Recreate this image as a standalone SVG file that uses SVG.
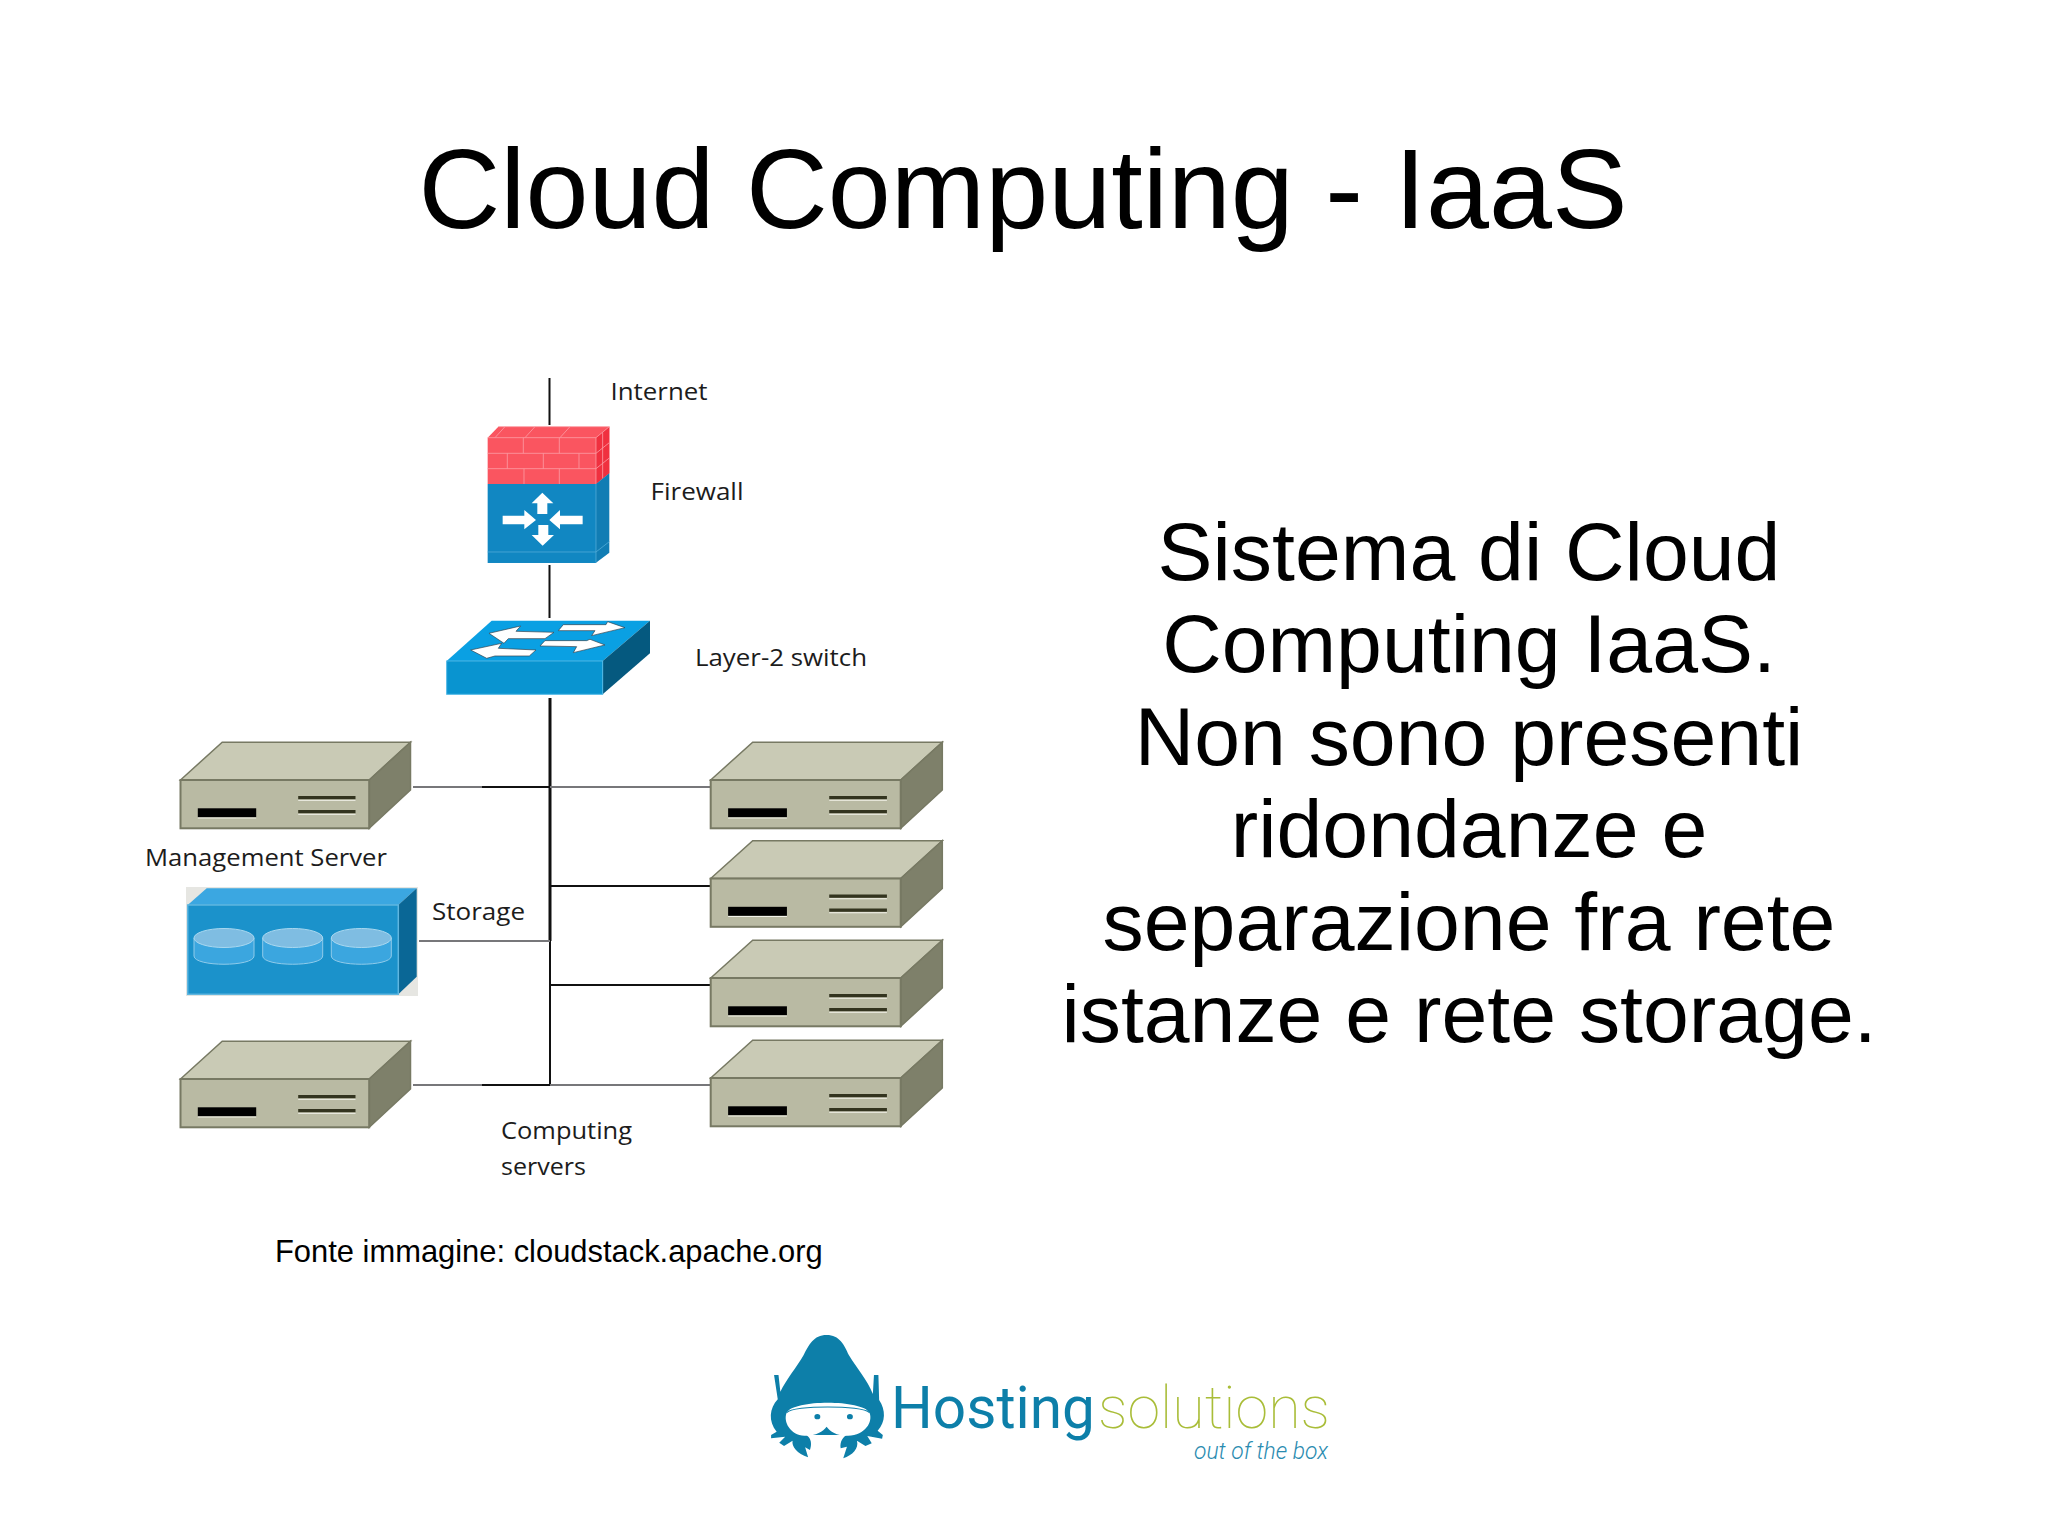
<svg xmlns="http://www.w3.org/2000/svg" width="2048" height="1535" viewBox="0 0 2048 1535">
<style>
.t{font-family:"Liberation Sans",Arial,sans-serif;fill:#000}
.b{font-size:82.400px;text-anchor:middle}
.l{font-family:"Open Sans","Noto Sans",sans-serif;font-size:23px;fill:#1c1c1c}
.k{fill:none;stroke:#111;stroke-width:2}
.g{fill:none;stroke:#77777a;stroke-width:2}
.br{fill:none;stroke:#fb9aa2;stroke-width:2.500}
.w{fill:#fff;stroke:#33404a;stroke-width:2}
.cy{fill:#3ba6df;stroke:#8fcbea;stroke-width:1}
.cyt{fill:#7fbde2;stroke:#a9d8f0;stroke-width:1}
</style>
<defs>
<g id="srv">
<path d="M0 0L41.700-37.800H230L188.700 0Z" fill="#c9cab5" stroke="#777963" stroke-width="1.500"/>
<path d="M188.700 0L230-37.800V10L188.700 48.300Z" fill="#7e806a" stroke="#777963" stroke-width="1.500"/>
<rect width="188.700" height="48.300" fill="#b9baa3" stroke="#777963" stroke-width="2"/>
<rect x="17.300" y="28.300" width="58.400" height="9" fill="#000"/>
<path d="M17.300 38H75.700" stroke="#f3f3ea" stroke-width="1"/>
<rect x="117.700" y="16" width="57.300" height="3.300" fill="#33341f"/>
<rect x="117.700" y="30" width="57.300" height="3.300" fill="#33341f"/>
<path d="M117.700 20.300H175M117.700 34.300H175" stroke="#f3f3ea" stroke-width="1"/>
</g>
<g id="cyl">
<path d="M-30 0V18C-30 29 30 29 30 18V0" class="cy"/>
<ellipse rx="30" ry="9.500" class="cyt"/>
</g>
</defs>
<rect width="2048" height="1535" fill="#fff"/>
<text class="t" x="1023" y="228" font-size="113.300" text-anchor="middle" id="title">Cloud Computing - IaaS</text>
<g id="connectors">
<path class="k" d="M549.500 378V425M549.500 565V618M550 941V1085M482 787H550M550 886H710M550 985H710M482 1085H550"/>
<path class="k" d="M550 698V941" style="stroke-width:3"/>
<path class="g" d="M413 787H482M550 787H710M419 941H550M550 1085H710M413 1085H482"/>
</g>
<g id="firewall">
<g transform="translate(430 370) scale(.3333)">
<path d="M173 203L205 170H538V310L498 342H173Z" fill="#fa5560"/>
<path d="M498 203L538 170V310L498 342Z" fill="#f0303f"/>
<path class="br" d="M173 203H498L538 170M205 170H538M173 250H498L538 218M173 296H498L538 264M280 203V250M388 203V250M232 250V296M340 250V296M447 250V296M282 296V342M388 296V342M498 203V342M518 187V326M225 170L195 203M315 170L285 203M420 170L390 203"/>
<rect x="173" y="342" width="325" height="237" fill="#1187c2"/>
<path d="M498 342L538 310V548L498 578Z" fill="#117db4"/>
<path d="M173 546H498L538 515M498 342V578" fill="none" stroke="#4ea9d6" stroke-width="2.500"/>
<path d="M337 368L370 400H352V432H322V400H305Z M338 527L305 495H325V465H355V495H372Z M318 450L283 420V437H218V463H283V478Z M358 450L390 420V437H458V463H390V478Z" fill="#fff"/>
</g>
<text class="l" x="650.500" y="500" textLength="93" lengthAdjust="spacingAndGlyphs">Firewall</text>
</g>
<text class="l" x="610.500" y="400" id="internet" textLength="97" lengthAdjust="spacingAndGlyphs">Internet</text>
<g id="switch">
<g transform="translate(430 370) scale(.3333)">
<path d="M50 873L185 752H660L518 873Z" fill="#0aa0e3"/>
<path d="M518 873L660 752V850L518 973Z" fill="#05597f"/>
<rect x="50" y="873" width="468" height="100" fill="#0994d0" stroke="#4fb8e6" stroke-width="3"/>
<path class="w" d="M177 790L272 768L258 784L372 787L345 806L235 806L222 820Z"/>
<path class="w" d="M585 773L533 755L528 764L400 764L385 782L495 782L485 797Z"/>
<path class="w" d="M122 840L215 820L205 835L318 840L298 858L195 858L170 865Z"/>
<path class="w" d="M525 825L480 808L470 812L345 812L330 828L440 830L430 848Z"/>
</g>
<text class="l" x="695" y="666" textLength="172" lengthAdjust="spacingAndGlyphs">Layer-2 switch</text>
</g>
<g id="mgmt-server"><use href="#srv" x="180.500" y="780"/><text class="l" x="145" y="866" textLength="242" lengthAdjust="spacingAndGlyphs">Management Server</text></g>
<g id="storage">
<rect x="186" y="887" width="232" height="109" fill="#e6e6e2"/>
<path d="M187.700 905L206.700 888.300H416.700L398.300 905Z" fill="#3ba7e1"/>
<path d="M398.300 905L416.700 888.300V976.700L398.300 994.300Z" fill="#0a6796"/>
<rect x="187.700" y="905" width="210.600" height="89.300" fill="#1b92cb" stroke="#5fb6e0" stroke-width="1.500"/>
<use href="#cyl" x="224" y="938"/><use href="#cyl" x="292.700" y="938"/><use href="#cyl" x="361.300" y="938"/>
<text class="l" x="432" y="919.500" textLength="93" lengthAdjust="spacingAndGlyphs">Storage</text>
</g>
<g id="computing-left"><use href="#srv" x="180.500" y="1079"/></g>
<g id="computing-1"><use href="#srv" transform="translate(710.700 780) scale(1.007 1)"/></g>
<g id="computing-2"><use href="#srv" transform="translate(710.700 878.500) scale(1.007 1)"/></g>
<g id="computing-3"><use href="#srv" transform="translate(710.700 978) scale(1.007 1)"/></g>
<g id="computing-4"><use href="#srv" transform="translate(710.700 1078) scale(1.007 1)"/></g>
<g id="computing-label"><text class="l" x="501" y="1139" textLength="131" lengthAdjust="spacingAndGlyphs">Computing</text><text class="l" x="501" y="1175" textLength="85" lengthAdjust="spacingAndGlyphs">servers</text></g>
<g id="body">
<text class="t b" x="1469" y="580">Sistema di Cloud</text>
<text class="t b" x="1469" y="672">Computing IaaS.</text>
<text class="t b" x="1469" y="765">Non sono presenti</text>
<text class="t b" x="1469" y="857">ridondanze e</text>
<text class="t b" x="1469" y="950">separazione fra rete</text>
<text class="t b" x="1469" y="1042">istanze e rete storage.</text>
</g>
<text class="t" x="275" y="1261.500" font-size="30.900" id="source">Fonte immagine: cloudstack.apache.org</text>
<g id="logo">
<g transform="translate(760 1320) scale(.37 .3333)" fill="#0d7fa9">
<path d="M180 45C215 45 228 75 240 105C262 145 290 180 305 222L308 165L320 165L322 240C340 270 340 305 318 332L332 345L330 356L290 348L302 370L285 378L262 362C268 385 250 405 225 415L235 380L218 385C215 365 225 350 235 345H125C140 355 140 375 135 390L122 382L130 412C100 400 85 380 88 362L65 378L52 368L68 350L30 355V345L45 335C22 305 25 265 48 238L38 165L50 165L55 215C70 180 100 140 118 105C132 75 145 45 180 45Z"/>
<path d="M72 278C90 238 276 238 296 278C306 305 285 345 238 347C208 348 190 335 180 320C170 335 150 348 120 347C82 345 62 305 72 278Z" fill="#fff"/>
<path d="M72 278C90 255 276 255 296 278" fill="none" stroke="#0d7fa9" stroke-width="3"/>
<circle cx="155" cy="290" r="8"/><circle cx="243" cy="290" r="8"/>
</g>
<text x="891" y="1428" font-family="Roboto,sans-serif" font-size="60" fill="#0d7fa9" textLength="204" lengthAdjust="spacingAndGlyphs">Hosting</text>
<text x="1098" y="1428" font-family="Roboto,sans-serif" font-weight="100" font-size="60" fill="#a9bd38" textLength="232" lengthAdjust="spacingAndGlyphs">solutions</text>
<text x="1194" y="1459" font-family="Roboto,sans-serif" font-weight="300" font-style="italic" font-size="23" fill="#2a8bb0" textLength="134" lengthAdjust="spacingAndGlyphs">out of the box</text>
</g>
</svg>
